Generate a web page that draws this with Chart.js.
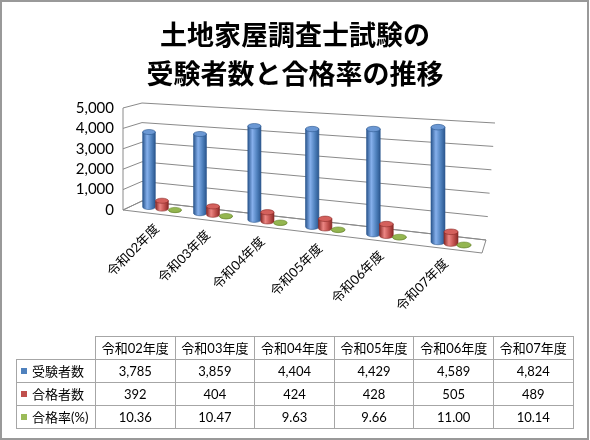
<!DOCTYPE html>
<html>
<head>
<meta charset="utf-8">
<script src="https://cdn.jsdelivr.net/npm/chart.js@4.4.1/dist/chart.umd.min.js"></script>
<style>
  body { margin: 0; background: #fff; }
  #wrap { position: relative; width: 590px; height: 440px; overflow: hidden; }
  #chart { position: absolute; left: 0; top: 0; }
  #frame { position: absolute; left: 0; top: 0; width: 585px; height: 436px; border: 2px solid #999; pointer-events: none; }
  #tbl { position: absolute; left: 16px; top: 336px; border-collapse: collapse; table-layout: fixed;
         font: 13px Lato, "Noto Sans CJK JP", sans-serif; color: #000; }
  #tbl td, #tbl th { border: 1px solid #a6a6a6; padding: 0; text-align: center; font-weight: normal; height: 22px; }
  #tbl th { height: 17px; }
  #tbl td.blank { border-top: none; border-left: none; }
  #tbl td.name { text-align: left; padding-left: 4px; }
  .key { display: inline-block; width: 6px; height: 6px; margin-right: 5px; vertical-align: 2px; }
</style>
</head>
<body>
<div id="wrap">
  <canvas id="chart" width="590" height="440"></canvas>
  <table id="tbl"></table>
  <div id="frame"></div>
</div>
<script>
// ----- data -----
const years = ["令和02年度", "令和03年度", "令和04年度", "令和05年度", "令和06年度", "令和07年度"];
const applicants = [3785, 3859, 4404, 4429, 4589, 4824];
const passers = [392, 404, 424, 428, 505, 489];
const passRate = [10.36, 10.47, 9.63, 9.66, 11.00, 10.14];
const yTicks = [0, 1000, 2000, 3000, 4000, 5000];
const seriesNames = ["受験者数", "合格者数", "合格率(%)"];

const palette = [
  { key: "#4f81bd", dark: "#2b578f", light: "#86b0ec", top: "#6b98d4" },
  { key: "#c0504d", dark: "#8a2a27", light: "#ec8683", top: "#d4605c" },
  { key: "#9bbb59", dark: "#6c8a33", light: "#bcd884", top: "#94b650" }
];

// ----- data table under the chart -----
const tbl = document.getElementById("tbl");
let html = '<colgroup><col style="width:79px">' + years.map(() => '<col style="width:79.6px">').join("") + "</colgroup>";
html += '<tr><td class="blank"></td>' + years.map(y => `<th>${y}</th>`).join("") + "</tr>";
const rows = [
  applicants.map(v => v.toLocaleString("en-US")),
  passers.map(v => v.toLocaleString("en-US")),
  passRate.map(v => v.toFixed(2))
];
rows.forEach((vals, r) => {
  html += `<tr><td class="name"><span class="key" style="background:${palette[r].key}"></span>${seriesNames[r]}</td>` +
    vals.map(v => `<td>${v}</td>`).join("") + "</tr>";
});
tbl.innerHTML = html;

// ----- fake 3D (perspective) helpers -----
// spread the category centres a little wider to the right, like the Excel view
function warpX(chart, xPix) {
  const a = chart.chartArea;
  const u = (xPix - a.left) / (a.right - a.left);
  const i = u * years.length - 0.5;
  return 162 + 49.3 * i + 1.7 * i * i;
}

function drawCylinder(ctx, cx, top, base, w, col) {
  const rx = w / 2, ry = Math.max(2, w * 0.2);
  const g = ctx.createLinearGradient(cx - rx, 0, cx + rx, 0);
  g.addColorStop(0, col.dark);
  g.addColorStop(0.35, col.light);
  g.addColorStop(0.7, col.key);
  g.addColorStop(1, col.dark);
  ctx.fillStyle = g;
  ctx.strokeStyle = col.dark;
  ctx.lineWidth = 0.6;
  ctx.beginPath();
  ctx.moveTo(cx - rx, top);
  ctx.lineTo(cx - rx, base);
  ctx.ellipse(cx, base, rx, ry, 0, Math.PI, 0, true);
  ctx.lineTo(cx + rx, top);
  ctx.closePath();
  ctx.fill();
  ctx.stroke();
  ctx.beginPath();
  ctx.ellipse(cx, top, rx, ry, 0, 0, Math.PI * 2);
  ctx.fillStyle = col.top;
  ctx.fill();
  ctx.stroke();
}

const cyl3d = {
  id: "cyl3d",
  beforeDatasetsDraw(chart) {
    const ctx = chart.ctx, a = chart.chartArea, ys = chart.scales.y;
    ctx.save();
    ctx.strokeStyle = "#8a8a8a";
    ctx.lineWidth = 1;
    // floor
    ctx.beginPath();
    ctx.moveTo(a.left, a.bottom);
    ctx.lineTo(142, 201);
    ctx.lineTo(486, 240);
    ctx.lineTo(482, 253);
    ctx.closePath();
    ctx.fillStyle = "#fff";
    ctx.fill();
    ctx.stroke();
    // left wall edge
    ctx.beginPath();
    ctx.moveTo(a.left, ys.getPixelForValue(yTicks[yTicks.length - 1]));
    ctx.lineTo(a.left, a.bottom);
    ctx.stroke();
    // gridlines on side wall and back wall
    yTicks.forEach(v => {
      const pv = ys.getPixelForValue(v);
      const f = (a.bottom - pv) / (a.bottom - a.top);
      ctx.beginPath();
      ctx.moveTo(a.left, pv);
      ctx.lineTo(142, 201 - 98 * f);
      ctx.lineTo(486 + 9 * f, 240 - 117 * f);
      ctx.stroke();
    });
    ctx.restore();
  },
  afterDatasetsDraw(chart) {
    const ctx = chart.ctx, a = chart.chartArea, xs = chart.scales.x, ys = chart.scales.y;
    const px1000 = ys.getPixelForValue(0) - ys.getPixelForValue(1000);
    ctx.save();
    years.forEach((label, i) => {
      const gc = xs.getPixelForValue(i);
      chart.data.datasets.forEach((ds, d) => {
        const bar = chart.getDatasetMeta(d).data[i];
        const cx = warpX(chart, gc) + (bar.x - gc);
        const t = (cx - 138) / 347;
        const k = (19.65 + 4.8 * t) / px1000;
        const baseY = a.bottom - 3 + 0.121 * (cx - 149);
        const topY = baseY - (bar.base - bar.y) * k;
        const w = bar.width * (0.97 + 0.12 * t);
        drawCylinder(ctx, cx, topY, baseY, w, palette[d]);
      });
      // category label along the floor front edge
      const lx = warpX(chart, gc);
      const front = a.bottom + 0.12 * (lx - a.left);
      ctx.save();
      ctx.translate(lx - 5, front + 12);
      ctx.rotate(-Math.PI / 4);
      ctx.font = '13px Lato, "Noto Sans CJK JP"';
      ctx.fillStyle = "#000";
      ctx.textAlign = "right";
      ctx.textBaseline = "middle";
      ctx.fillText(label, 0, 0);
      ctx.restore();
    });
    ctx.restore();
  }
};

const bgPlugin = {
  id: "bg",
  beforeDraw(chart) {
    const ctx = chart.ctx;
    ctx.save();
    ctx.fillStyle = "#fff";
    ctx.fillRect(0, 0, chart.width, chart.height);
    ctx.restore();
  }
};

new Chart(document.getElementById("chart").getContext("2d"), {
  type: "bar",
  data: {
    labels: years,
    datasets: [
      { label: seriesNames[0], data: applicants },
      { label: seriesNames[1], data: passers },
      { label: seriesNames[2], data: passRate }
    ].map(ds => Object.assign(ds, {
      backgroundColor: "rgba(0,0,0,0)",
      borderWidth: 0,
      categoryPercentage: 0.548,
      barPercentage: 1
    }))
  },
  options: {
    responsive: false,
    animation: false,
    layout: { padding: { left: 40, right: 40, top: 0, bottom: 230 } },
    plugins: {
      legend: { display: false },
      tooltip: { enabled: false },
      title: {
        display: true,
        text: ["土地家屋調査士試験の", "受験者数と合格率の推移"],
        color: "#000",
        font: { family: '"Noto Sans CJK JP"', size: 27, weight: "bold", lineHeight: 1.444 },
        padding: { top: 15, bottom: 15 }
      }
    },
    scales: {
      x: { display: false },
      y: {
        min: 0,
        max: 5000,
        afterFit(scale) { scale.width = 83; },
        afterBuildTicks(scale) { scale.ticks = yTicks.map(v => ({ value: v })); },
        grid: { display: false, drawTicks: false },
        border: { display: false },
        ticks: {
          autoSkip: false,
          padding: 9,
          color: "#000",
          font: { family: "Lato", size: 15 },
          callback: v => v.toLocaleString("en-US")
        }
      }
    }
  },
  plugins: [bgPlugin, cyl3d]
});
</script>
</body>
</html>
